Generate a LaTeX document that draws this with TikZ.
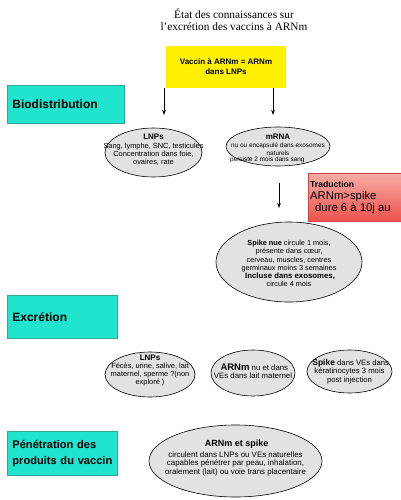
\documentclass[tikz,border=0pt]{standalone}
\usepackage{fontspec}
\setmainfont{Liberation Serif}
\newfontfamily\hfont{Liberation Sans}
\usetikzlibrary{shapes.geometric,arrows.meta}
\definecolor{headfill}{RGB}{32,228,205}
\definecolor{headline}{RGB}{50,165,145}
\definecolor{vacyellow}{RGB}{255,242,0}
\definecolor{ellfill}{RGB}{226,226,226}
\definecolor{tradtop}{RGB}{246,172,165}
\definecolor{tradbot}{RGB}{238,82,76}
\definecolor{tradline}{RGB}{205,70,65}
\newcommand{\fsz}[2]{\fontsize{#1}{#2}\selectfont}
\begin{document}
\begin{tikzpicture}[x=1pt,y=-1pt,
  titlestyle/.style={font=\fsz{11.3}{12}, align=center, inner sep=0pt},
  vacbox/.style={fill=vacyellow, minimum width=120pt, minimum height=42pt, inner sep=0pt,
    font=\hfont\bfseries\fsz{8}{10}, align=center},
  head/.style={draw=headline, fill=headfill, line width=0.8pt, anchor=north west,
    font=\hfont\bfseries\fsz{12}{16}, align=left, inner xsep=5pt, inner ysep=0pt},
  ell/.style={ellipse, draw=black, line width=0.6pt, fill=ellfill, inner sep=0pt},
  etxt/.style={font=\hfont\fsz{7.3}{8.2}, align=center, inner sep=0pt},
  tradbox/.style={top color=tradtop, bottom color=tradbot, draw=tradline, line width=0.6pt,
    anchor=north west, minimum width=93pt, minimum height=48pt, inner sep=0pt},
  tradtxt/.style={font=\hfont\fsz{11.3}{12}, anchor=west, inner sep=0pt},
  arr/.style={-{Stealth[length=5pt,width=3.6pt]}, line width=0.7pt}
]
\useasboundingbox (0,0) rectangle (400,500);

% title
\node[titlestyle] (title) at (234,20) {État des connaissances sur\\l’excrétion des vaccins à ARNm};

% vaccine box
\node[vacbox] (vac) at (226,67) {Vaccin à ARNm = ARNm\\dans LNPs};

% section headings
\node[head, text width=107pt, minimum height=38pt] (bio) at (7,85) {Biodistribution};
\node[head, text width=100pt, minimum height=43pt] (exc) at (7,295) {Excrétion};
\node[head, text width=100pt, minimum height=44pt, font=\hfont\bfseries\fsz{11.1}{16}] (pen) at (7,431) {Pénétration des\\produits du vaccin};

% biodistribution ellipses
\node[ell, minimum width=97pt, minimum height=49pt] (lnpA) at (153.5,152.5) {};
\node[etxt, font=\hfont\fsz{7.4}{8.3}] (lnpAt) at (153.5,150) {{\fsz{8}{8}\bfseries LNPs}\\Sang, lymphe, SNC, testicules\\Concentration dans foie,\\ovaires, rate};

\node[ell, minimum width=104pt, minimum height=39pt] (mrna) at (278,146.5) {};
\node[etxt, font=\hfont\fsz{6.4}{8}] (mrnat) at (278,145) {{\fsz{8}{8}\bfseries mRNA}\\nu ou encapsulé dans exosomes\\naturels};
\node[etxt, font=\hfont\fsz{6.4}{8}, anchor=west] (mrnap) at (230,160) {persiste 2 mois dans sang};

% arrows from vaccine
\coordinate (a1e) at (164,115);
\coordinate (a2e) at (273,115);
\draw[arr] (vac.south -| a1e) -- (a1e);
\draw[arr] (vac.south -| a2e) -- (a2e);

% traduction
\node[tradbox] (trad) at (308,173) {};
\node[font=\hfont\bfseries\fsz{8.6}{9}, anchor=west, inner sep=0pt] (tradt1) at (310,184) {Traduction};
\node[tradtxt] (tradt2) at (310,196.5) {ARNm>spike};
\node[tradtxt] (tradt3) at (315,208.5) {dure 6 à 10j au};

\coordinate (a3s) at (279,183);
\coordinate (a3e) at (279,208);
\draw[arr] (a3s) -- (a3e);

% spike
\node[ell, minimum width=146pt, minimum height=80pt] (spike) at (289,262) {};
\node[etxt] (spiket) at (289,263.5) {\textbf{Spike nue} circule 1 mois,\\présente dans cœur,\\cerveau, muscles, centres\\germinaux moins 3 semaines\\{\bfseries\fsz{7.8}{8} Incluse dans exosomes,}\\circule 4 mois};

% excretion ellipses
\node[ell, minimum width=90pt, minimum height=45pt] (lnpB) at (150,374.5) {};
\node[etxt, font=\hfont\fsz{7.4}{8.3}] (lnpBt) at (150,370.5) {{\fsz{8}{8}\bfseries LNPs}\\Fécès, urine, salive, lait\\maternel, sperme ?(non\\exploré )};

\node[ell, minimum width=84pt, minimum height=46pt] (arnB) at (253,373) {};
\node[etxt, font=\hfont\fsz{7.8}{8}] (arnBt) at (253,371.5) {{\bfseries\fsz{9.5}{9} ARNm} nu et dans\\VEs dans lait maternel};

\node[ell, minimum width=85pt, minimum height=43pt] (spkB) at (349.5,371.5) {};
\node[etxt, font=\hfont\fsz{7.7}{8.5}] (spkBt) at (349.5,371.5) {{\bfseries\fsz{8.5}{8} Spike} dans VEs dans\\kératinocytes 3 mois\\post injection};

% penetration ellipse
\node[ell, minimum width=173pt, minimum height=72pt] (penE) at (235.5,461) {};
\node[etxt, font=\hfont\fsz{7.9}{8.6}] (penEt) at (235.5,458) {{\bfseries\fsz{9}{11} ARNm et spike}\\[2pt]circulent dans LNPs ou VEs naturelles\\capables pénétrer par peau, inhalation,\\oralement (lait) ou voie trans placentaire};
\end{tikzpicture}
\end{document}
